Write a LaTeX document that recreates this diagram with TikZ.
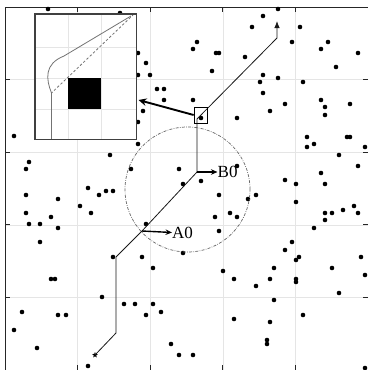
\documentclass[tikz,border=0pt]{standalone}
\usepackage{fontspec}
\setmainfont{Liberation Serif}
\usetikzlibrary{arrows.meta,shapes.geometric}
\begin{document}
\begin{tikzpicture}[x=1pt,y=-1pt,
  dot/.style={fill=black},
  gridline/.style={draw=black!10,line width=0.6pt},
  frameline/.style={draw=black!85,line width=0.9pt},
  pathline/.style={draw=black!90,line width=0.8pt},
  label/.style={anchor=west,inner sep=0pt,font=\fontsize{17}{17}\selectfont},
  shortarrow/.style={line width=1.4pt,-{Stealth[length=6.5pt,width=5.5pt]}}]
\useasboundingbox (0,0) rectangle (368,370);
\fill[white] (0,0) rectangle (368,370);
% grid
\foreach \i in {1,...,4}{
  \pgfmathsetmacro{\gx}{5+72.6*\i}
  \pgfmathsetmacro{\gy}{7+72.6*\i}
  \draw[gridline] (\gx,7) -- (\gx,370);
  \draw[gridline] (5,\gy) -- (368,\gy);
  \draw[frameline] (\gx,7) -- (\gx,12);
  \draw[frameline] (\gx,370) -- (\gx,365);
  \draw[frameline] (5,\gy) -- (10,\gy);
  \draw[frameline] (368,\gy) -- (363,\gy);
}
\draw[frameline] (5,370) -- (5,7) -- (368,7);
% obstacles
\foreach \x/\y in {48/9,120/13,138/53,146/63,138/75,150/75,157/89,164/89,164/100,143/111,138/122,14/136,138/144,110/155,29/162,26/169,131/169,179/169,
278/9,263/16,300/27,252/27,197/42,193/49,216/53,219/53,245/57,292/42,328/42,321/49,358/53,212/71,336/67,263/75,260/82,278/78,303/82,263/93,193/100,285/104,270/111,321/100,325/107,325/115,350/104,201/118,237/118,307/137,347/137,350/137,314/144,307/147,365/147,339/155,358/166,237/166,321/173,285/180,296/184,325/184,201/181,183/184,
88/188,26/195,58/199,99/195,106/191,113/191,80/206,26/213,51/217,91/213,29/224,40/224,58/228,146/224,40/242,113/257,142/257,153/268,183/253,51/279,55/279,102/297,22/312,124/304,135/304,153/304,146/315,161/312,58/315,66/315,14/330,37/348,171/344,179/355,88/366,
219/195,256/195,248/199,296/202,215/217,230/213,237/217,219/231,325/213,332/213,325/220,343/210,354/206,358/213,314/228,292/242,285/250,299/257,296/260,361/257,274/268,332/268,223/271,234/279,270/279,296/279,296/282,365/275,256/286,339/293,274/300,234/319,303/315,270/322,267/340,267/344,193/355,365/368}
  \fill[dot] (\x,\y) circle (2.3pt);
% circle
\draw[draw=black!60,line width=0.7pt,dash pattern=on 3pt off 1.3pt on 0.7pt off 1.3pt] (187.5,189.5) circle (62.5pt);
% path
\node[star,star points=5,star point ratio=2.3,fill=black,inner sep=0pt,minimum size=6pt] (S) at (95,355) {};
\coordinate (P1) at (116,333);
\coordinate (P2) at (116,257);
\coordinate (A) at (142,231);
\coordinate (B) at (197,172);
\coordinate (C) at (197,119);
\coordinate (D) at (277,38);
\coordinate (E) at (277,21);
\draw[pathline,-{Latex[length=7pt,width=5.5pt]}] (S.center) -- (P1) -- (P2) -- (A) -- (B) -- (C) -- (D) -- (E);
% labels
\node[label] (A0) at (172,232.5) {A0};
\node[label] (B0) at (217.5,172) {B0};
\draw[shortarrow] (A) -- (A0.west);
\draw[shortarrow] (B) -- (B0.west);
% zoom box
\node[draw=black,line width=0.7pt,minimum width=13pt,minimum height=16pt,inner sep=0pt] (zoombox) at (200.5,115) {};
% inset
\node[fill=white,minimum width=101pt,minimum height=125pt,inner sep=0pt] (inset) at (85.5,76.5) {};
\foreach \v in {68,101} \draw[gridline] (\v,14) -- (\v,139);
\foreach \v in {47,78,109} \draw[gridline] (35,\v) -- (136,\v);
\fill[black] (68,78) rectangle (101,109);
\draw[draw=black!55,line width=0.8pt] (51.5,139) -- (51.5,93) .. controls (46,79) and (44,64) .. (64,56) -- (131,16);
\draw[draw=black!55,line width=0.8pt,dash pattern=on 2.5pt off 2pt] (51.5,139) -- (51.5,93) -- (133,15);
\draw[draw=black!75,line width=1.4pt] (inset.north west) rectangle (inset.south east);
\coordinate (tipI) at (138.5,100);
\draw[line width=1.9pt,-{Stealth[length=8pt,width=7.5pt]}] (zoombox.west) -- (tipI);
\end{tikzpicture}
\end{document}
